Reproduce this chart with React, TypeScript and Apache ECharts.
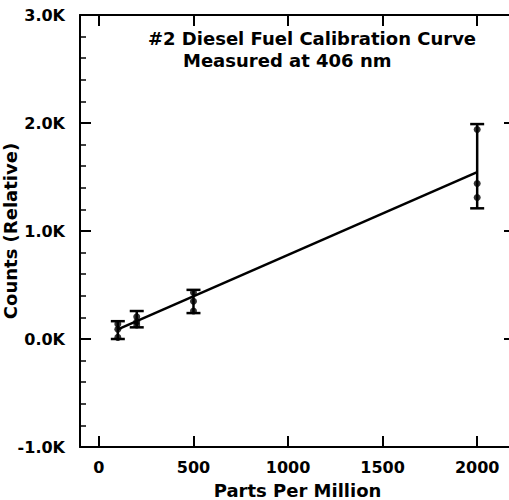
import React, { useEffect, useRef } from "react";
import * as echarts from "echarts";

const xTickValues = [0, 500, 1000, 1500, 2000];
const replicateX = [100, 100, 100, 200, 200, 200, 500, 500, 500, 2000, 2000, 2000];
const replicateY = [140, 90, 15, 206, 160, 130, 430, 350, 260, 1940, 1440, 1310];
const errorX = [100, 200, 500, 2000];
const errorLow = [0, 108, 240, 1210];
const errorHigh = [165, 259, 455, 1990];
const fitX = [100, 2000];
const fitY = [90, 1546];
const titleLine1 = "#2 Diesel Fuel Calibration Curve";
const titleLine2 = "Measured at 406 nm";

const FONT = "DejaVu Sans";

export default function App() {
  const ref = useRef<HTMLDivElement>(null);
  useEffect(() => {
    if (!ref.current) return;
    const chart = echarts.init(ref.current, null, { renderer: "svg" });
    const axisLine = { show: true, onZero: false, lineStyle: { color: "#000", width: 2 } };
    const tick = { show: true, inside: true, length: 11, lineStyle: { color: "#000", width: 2 } };
    const labelStyle = { color: "#000", fontFamily: FONT, fontWeight: "bold" as const, fontSize: 16 };
    const xBase = {
      type: "value" as const,
      min: -100,
      max: 2200,
      axisLine,
      splitLine: { show: false },
    };
    const yBase = {
      type: "value" as const,
      min: -1000,
      max: 3000,
      interval: 1000,
      axisLine,
      splitLine: { show: false },
      minorTick: { show: true, splitNumber: 5, length: 6, lineStyle: { color: "#000", width: 1.5 } },
    };
    const option: any = {
      animation: false,
      backgroundColor: "#fff",
      grid: {
        left: 80,
        top: 15,
        width: 435,
        height: 432,
        containLabel: false,
        outerBoundsMode: "none",
      },
      xAxis: [
        {
          ...xBase,
          position: "bottom",
          name: "Parts Per Million",
          nameLocation: "middle",
          nameGap: 34,
          nameTextStyle: { ...labelStyle, fontSize: 18 },
          axisTick: { ...tick, customValues: xTickValues },
          axisLabel: {
            ...labelStyle,
            margin: 12,
            customValues: xTickValues,
            formatter: (v: number) => String(v),
          },
        },
        {
          ...xBase,
          position: "top",
          axisTick: { ...tick, customValues: xTickValues },
          axisLabel: { show: false },
        },
      ],
      yAxis: [
        {
          ...yBase,
          position: "left",
          name: "Counts (Relative)",
          nameLocation: "middle",
          nameGap: 61,
          nameMoveOverlap: false,
          nameTextStyle: { ...labelStyle, fontSize: 18 },
          axisTick: tick,
          axisLabel: {
            ...labelStyle,
            margin: 15,
            formatter: (v: number) => (v / 1000).toFixed(1) + "K",
          },
        },
        {
          ...yBase,
          position: "right",
          axisTick: tick,
          axisLabel: { show: false },
        },
      ],
      graphic: [
        {
          type: "text",
          left: 148,
          top: 29,
          style: { text: titleLine1, fill: "#000", font: `bold 18px "${FONT}"` },
        },
        {
          type: "text",
          left: 183,
          top: 51,
          style: { text: titleLine2, fill: "#000", font: `bold 18px "${FONT}"` },
        },
      ],
      series: [
        {
          type: "line",
          data: fitX.map((x, i) => [x, fitY[i]]),
          symbol: "none",
          lineStyle: { color: "#000", width: 2.5 },
          z: 3,
        },
        {
          type: "custom",
          data: errorX.map((x, i) => [x, errorLow[i], errorHigh[i]]),
          renderItem: (params: any, api: any) => {
            const lo = api.coord([api.value(0), api.value(1)]);
            const hi = api.coord([api.value(0), api.value(2)]);
            const w = 7;
            const st = { stroke: "#000", lineWidth: 2.5 };
            return {
              type: "group",
              children: [
                { type: "line", shape: { x1: lo[0], y1: lo[1], x2: hi[0], y2: hi[1] }, style: st },
                { type: "line", shape: { x1: lo[0] - w, y1: lo[1], x2: lo[0] + w, y2: lo[1] }, style: st },
                { type: "line", shape: { x1: hi[0] - w, y1: hi[1], x2: hi[0] + w, y2: hi[1] }, style: st },
              ],
            };
          },
          z: 4,
        },
        {
          type: "scatter",
          data: replicateX.map((x, i) => [x, replicateY[i]]),
          symbol: "circle",
          symbolSize: 7,
          itemStyle: { color: "#000" },
          z: 5,
        },
      ],
    };
    chart.setOption(option);
    return () => chart.dispose();
  }, []);
  return (
    <div
      ref={ref}
      style={{ position: "fixed", left: 0, top: 0, width: 509, height: 500, background: "#fff" }}
    />
  );
}
